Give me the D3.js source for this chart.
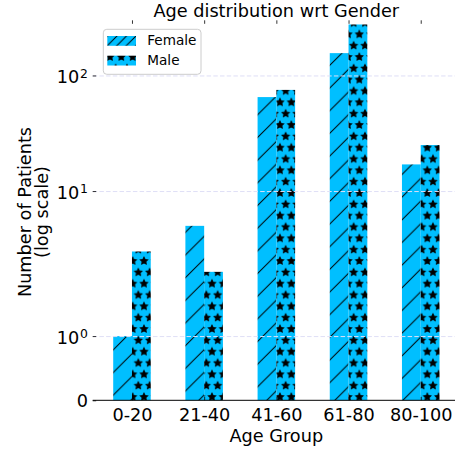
<!DOCTYPE html>
<html>
<head>
<meta charset="utf-8">
<script src="https://cdn.jsdelivr.net/npm/d3@7"></script>
<style>
  body { margin: 0; background: #fff; }
  svg { display: block; font-family: "DejaVu Sans", sans-serif; }
</style>
</head>
<body>
<div id="chart"></div>
<script>
// Chart data
const ageGroups = ['0-20', '21-40', '41-60', '61-80', '80-100'];
const femaleCounts = [1, 5, 65, 156, 17];
const maleCounts = [3, 2, 75, 276, 25];
const seriesNames = ['Female', 'Male'];
const yTickValues = [0, 1, 10, 100];
const yMax = 300;

const width = 455, height = 453;
const plot = { left: 92.7, right: 460, top: 20.3, bottom: 400.3 };
const barColor = '#00BFFF';

// matplotlib style symlog (linthresh 2, base 10, linscale 1)
const linthresh = 2;
const linscaleAdj = 1 / (1 - 1 / 10);
function symlog(v) {
    return v <= linthresh ? v * linscaleAdj : linthresh * (linscaleAdj + Math.log10(v / linthresh));
}

const svg = d3.select('#chart')
    .append('svg')
    .attr('width', width)
    .attr('height', height);

// Scales
const x = d3.scalePoint()
    .domain(ageGroups)
    .range([plot.left, plot.right])
    .padding(0.544);
const barW = x.step() * 0.26;

const yLin = d3.scaleLinear()
    .domain([0, symlog(yMax)])
    .range([plot.bottom, plot.top]);
const y = v => yLin(symlog(v));

// Hatch patterns
const defs = svg.append('defs');

function diagPattern(id, step, offset) {
    const p = defs.append('pattern')
        .attr('id', id)
        .attr('patternUnits', 'userSpaceOnUse')
        .attr('width', step)
        .attr('height', step)
        .attr('x', offset)
        .attr('y', 0);
    p.append('rect').attr('width', step).attr('height', step).attr('fill', barColor);
    p.append('path')
        .attr('d', `M-2,2L2,-2M0,${step}L${step},0M${step - 2},${step + 2}L${step + 2},${step - 2}`)
        .attr('stroke', '#000')
        .attr('stroke-width', 1)
        .attr('fill', 'none');
}
diagPattern('hatchDiag', 22.67, 9.7);
diagPattern('hatchDiagLegend', 9.5, 1);

function starPath(cx, cy, r) {
    const pts = d3.range(10).map(i => {
        const a = -Math.PI / 2 + i * Math.PI / 5;
        const rr = i % 2 === 0 ? r : r / 2;
        return [cx + rr * Math.cos(a), cy + rr * Math.sin(a)];
    });
    return 'M' + pts.map(p => p.join(',')).join('L') + 'Z';
}

const sw = 11.333, sh = 22.667;
const stars = defs.append('pattern')
    .attr('id', 'hatchStar')
    .attr('patternUnits', 'userSpaceOnUse')
    .attr('width', sw)
    .attr('height', sh)
    .attr('x', 8.0)
    .attr('y', 11.67);
stars.append('rect').attr('width', sw).attr('height', sh).attr('fill', barColor);
[[0, 0], [sw, 0], [0, sh], [sw, sh], [sw / 2, sh / 2]].forEach(c => {
    stars.append('path')
        .attr('d', starPath(c[0], c[1], 3.78))
        .attr('fill', '#000')
        .attr('stroke', '#000')
        .attr('stroke-width', 1)
        .attr('stroke-linejoin', 'miter');
});

// Bars
const barData = [];
ageGroups.forEach((g, i) => {
    barData.push({ group: g, series: 'Female', value: femaleCounts[i] });
    barData.push({ group: g, series: 'Male', value: maleCounts[i] });
});

svg.append('g')
    .selectAll('rect')
    .data(barData)
    .enter()
    .append('rect')
    .attr('x', d => d.series === 'Female' ? x(d.group) - barW : x(d.group))
    .attr('y', d => y(d.value))
    .attr('width', barW)
    .attr('height', d => y(0) - y(d.value))
    .attr('fill', d => d.series === 'Female' ? 'url(#hatchDiag)' : 'url(#hatchStar)');

// Grid (drawn over bars)
const grid = svg.append('g')
    .attr('transform', `translate(${plot.left},0)`)
    .call(d3.axisLeft(yLin)
        .tickValues(yTickValues.filter(v => v > 0).map(symlog))
        .tickSize(-(plot.right - plot.left))
        .tickFormat(''));
grid.select('.domain').remove();
grid.selectAll('line')
    .attr('stroke', '#dfdff6')
    .attr('stroke-width', 1)
    .attr('stroke-dasharray', '4.5,2.2');

// Y axis
const yAxis = svg.append('g')
    .attr('transform', `translate(${plot.left},0)`)
    .call(d3.axisLeft(yLin)
        .tickValues(yTickValues.map(symlog))
        .tickSize(-3.5)
        .tickPadding(4.7));
yAxis.select('.domain').remove();
yAxis.selectAll('line').attr('stroke-width', 0.8);
yAxis.selectAll('text')
    .attr('font-size', 17.7)
    .attr('font-family', '"DejaVu Sans", sans-serif')
    .attr('fill', '#000')
    .attr('dy', null)
    .each(function(d, i) {
        const v = yTickValues[i];
        const t = d3.select(this).text(null);
        if (v === 0) {
            t.attr('y', 6.4).text('0');
        } else {
            t.attr('y', 7.2);
            t.append('tspan').text('10');
            t.append('tspan')
                .attr('font-size', 12.4)
                .attr('dx', 0.8)
                .attr('dy', -5.6)
                .text(String(Math.round(Math.log10(v))));
        }
    });

// X axis bottom
const xAxis = svg.append('g')
    .attr('transform', `translate(0,${plot.bottom})`)
    .call(d3.axisBottom(x).tickSize(-3.5).tickPadding(8.6));
xAxis.select('.domain').remove();
xAxis.selectAll('line').attr('stroke-width', 0.8);
xAxis.selectAll('text')
    .attr('font-size', 17.7)
    .attr('font-family', '"DejaVu Sans", sans-serif')
    .attr('fill', '#000');

svg.append('line')
    .attr('x1', plot.left)
    .attr('x2', plot.right)
    .attr('y1', plot.bottom)
    .attr('y2', plot.bottom)
    .attr('stroke', '#000')
    .attr('stroke-width', 1);

// Top ticks only
const xTop = svg.append('g')
    .attr('transform', `translate(0,${plot.top})`)
    .call(d3.axisTop(x).tickSize(-3.5).tickFormat(''));
xTop.select('.domain').remove();
xTop.selectAll('line').attr('stroke-width', 0.8);

// Title and labels
const cx = 276.3;
svg.append('text')
    .attr('x', cx)
    .attr('y', 17.3)
    .attr('text-anchor', 'middle')
    .attr('font-size', 17.7)
    .text('Age distribution wrt Gender');

svg.append('text')
    .attr('x', cx)
    .attr('y', 441.5)
    .attr('text-anchor', 'middle')
    .attr('font-size', 17.7)
    .text('Age Group');

['Number of Patients', '(log scale)'].forEach((line, i) => {
    svg.append('text')
        .attr('transform', `translate(${30.8 + i * 17.6},212) rotate(-90)`)
        .attr('text-anchor', 'middle')
        .attr('font-size', 17.7)
        .text(line);
});

// Legend
const legend = svg.append('g');
legend.append('rect')
    .attr('x', 103.3)
    .attr('y', 29.3)
    .attr('width', 97.7)
    .attr('height', 45)
    .attr('rx', 3.5)
    .attr('fill', '#fff')
    .attr('fill-opacity', 0.8)
    .attr('stroke', '#cccccc')
    .attr('stroke-width', 1);

const legendFills = ['url(#hatchDiagLegend)', 'url(#hatchStar)'];
seriesNames.forEach((name, i) => {
    const top = 36 + i * 19.7;
    legend.append('rect')
        .attr('x', 107.3)
        .attr('y', top)
        .attr('width', 28.7)
        .attr('height', 9.8)
        .attr('fill', legendFills[i]);
    legend.append('text')
        .attr('x', 147.3)
        .attr('y', top + 9.1)
        .attr('font-size', 13.6)
        .text(name);
});
</script>
</body>
</html>
